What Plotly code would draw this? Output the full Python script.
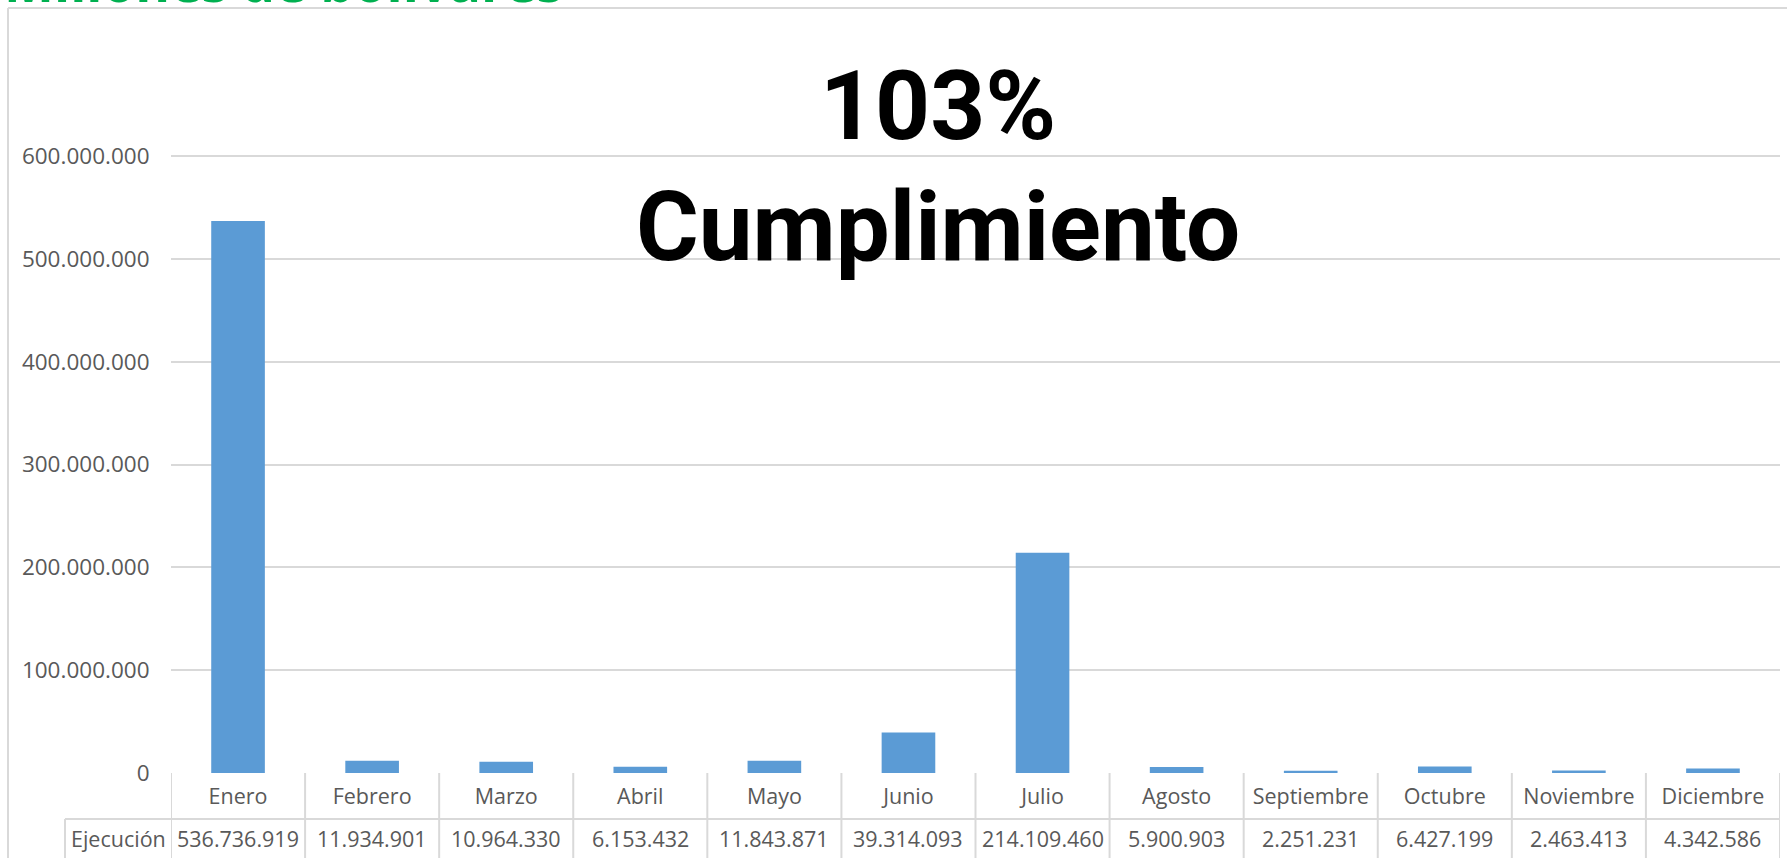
import plotly.graph_objects as go

meses = ["Enero", "Febrero", "Marzo", "Abril", "Mayo", "Junio", "Julio",
         "Agosto", "Septiembre", "Octubre", "Noviembre", "Diciembre"]
ejecucion = [536736919, 11934901, 10964330, 6153432, 11843871, 39314093,
             214109460, 5900903, 2251231, 6427199, 2463413, 4342586]
y_ticks = [0, 100000000, 200000000, 300000000, 400000000, 500000000, 600000000]
serie_nombre = "Ejecución"
titulo_1 = "103%"
titulo_2 = "Cumplimiento"
subtitulo = "Millones de bolívares"

W, H = 1787, 858
ML, MR, MT, MB = 171, 7, 20, 85
PW = W - ML - MR
PH = H - MT - MB
ZERO = H - MB  # pixel row of y=0

def py(p):  # pixel row -> paper y
    return (ZERO - p) / PH

def px(p):  # pixel column -> paper x
    return (p - ML) / PW

def fmt(v):
    return f"{v:,}".replace(",", ".")

ymax = 600000000 * PH / (ZERO - 156)

GRID = "#d9d9d9"
TXT = "#595959"
FONT = "Open Sans"

fig = go.Figure(go.Bar(
    x=meses, y=ejecucion, name=serie_nombre,
    marker=dict(color="#5B9BD5", line=dict(width=0)),
))

shapes = []
# table vertical lines at category boundaries
for i in range(len(meses) + 1):
    shapes.append(dict(type="line", xref="x", yref="paper",
                       x0=i - 0.5, x1=i - 0.5, y0=0, y1=py(900),
                       line=dict(color=GRID, width=2)))
# row divider
shapes.append(dict(type="line", xref="paper", yref="paper",
                   x0=px(65), x1=1, y0=py(819), y1=py(819),
                   line=dict(color=GRID, width=2)))
# Ejecución cell left border
shapes.append(dict(type="line", xref="paper", yref="paper",
                   x0=px(65), x1=px(65), y0=py(819), y1=py(900),
                   line=dict(color=GRID, width=2)))
# outer chart border (left + top)
shapes.append(dict(type="line", xref="paper", yref="paper",
                   x0=px(8), x1=px(8), y0=py(8), y1=py(900),
                   line=dict(color=GRID, width=2)))
shapes.append(dict(type="line", xref="paper", yref="paper",
                   x0=px(8), x1=px(1800), y0=py(8), y1=py(8),
                   line=dict(color=GRID, width=2)))

annotations = []
for i, v in enumerate(ejecucion):
    annotations.append(dict(x=meses[i], xref="x", y=py(839), yref="paper",
                            text=fmt(v), showarrow=False,
                            font=dict(family=FONT, size=21.5, color=TXT),
                            xanchor="center", yanchor="middle"))
annotations.append(dict(x=px(118), xref="paper", y=py(839), yref="paper",
                        text=serie_nombre, showarrow=False,
                        font=dict(family=FONT, size=21.5, color=TXT),
                        xanchor="center", yanchor="middle"))
annotations.append(dict(x=px(938), xref="paper", y=py(106), yref="paper",
                        text=f"<b>{titulo_1}</b>", showarrow=False,
                        font=dict(family="Roboto", size=96, color="black"),
                        xanchor="center", yanchor="middle"))
annotations.append(dict(x=px(938), xref="paper", y=py(227), yref="paper",
                        text=f"<b>{titulo_2}</b>", showarrow=False,
                        font=dict(family="Roboto", size=96, color="black"),
                        xanchor="center", yanchor="middle"))
annotations.append(dict(x=px(2), xref="paper", y=py(20), yref="paper",
                        text=f"<b>{subtitulo}</b>", showarrow=False,
                        font=dict(family=FONT, size=53, color="#00B050"),
                        xanchor="left", yanchor="bottom"))

fig.update_layout(
    width=W, height=H,
    margin=dict(l=ML, r=MR, t=MT, b=MB, pad=0),
    paper_bgcolor="white", plot_bgcolor="white",
    separators=",.",
    bargap=0.6,
    showlegend=False,
    shapes=shapes,
    annotations=annotations,
    xaxis=dict(showgrid=False, showline=False, zeroline=False,
               ticks="outside", ticklen=4, tickcolor="rgba(0,0,0,0)",
               tickfont=dict(family=FONT, size=21.5, color=TXT),
               range=[-0.5, len(meses) - 0.5]),
    yaxis=dict(range=[0, ymax], tickvals=y_ticks, tickformat=",d",
               showgrid=True, gridcolor=GRID, gridwidth=1.5,
               zeroline=False, showline=False,
               ticks="outside", ticklen=16, tickcolor="rgba(0,0,0,0)",
               tickfont=dict(family=FONT, size=22.5, color=TXT)),
)

fig.write_html("out.html",
               config={"displayModeBar": False},
               post_script="document.body.style.margin='0';document.body.style.overflow='hidden';")
